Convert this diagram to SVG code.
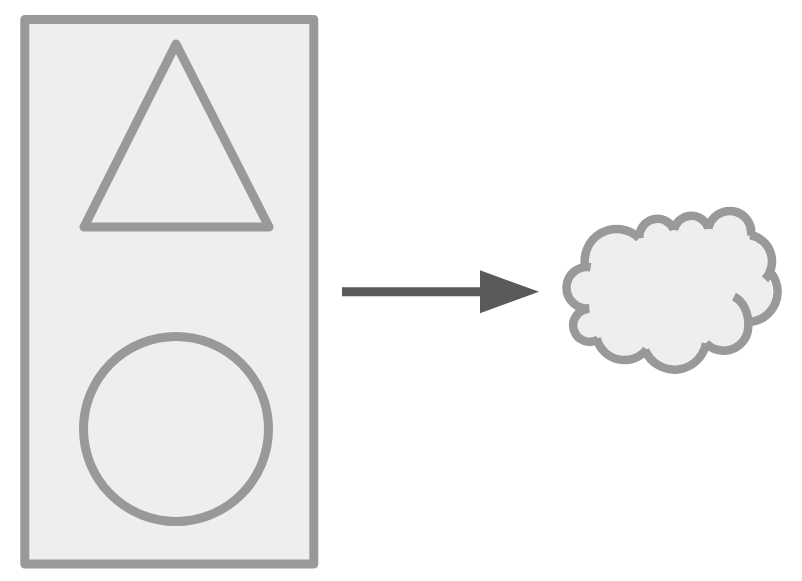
<svg xmlns="http://www.w3.org/2000/svg" width="802" height="581" viewBox="0 0 802 581">
<style>
.s{fill:#eeeeee;stroke:#999999;stroke-width:9;stroke-linejoin:round}
.o{fill:none;stroke:#999999;stroke-width:8.500}
.f{fill:#eeeeee;stroke:none}
</style>
<defs>
<marker id="head" markerUnits="userSpaceOnUse" markerWidth="60" markerHeight="44" refX="1" refY="21.5" orient="auto">
<path d="M1 0L60 21.5L1 43Z" fill="#5a5a5a"/>
</marker>
</defs>
<rect width="802" height="581" fill="#ffffff"/>
<g id="panel"><rect class="s" x="24.800" y="19.500" width="289" height="544.500"/></g>
<g id="triangle"><path class="s" d="M176 44L269 227H84Z"/></g>
<g id="circle"><circle class="s" cx="176" cy="429" r="92.500"/></g>
<g id="cloud">
<path class="f" d="M586 270A32 32 0 0 1 639.300 238.300A18.200 18.200 0 0 1 674 229.500A17.700 17.700 0 0 1 708.300 228.300A21.700 21.700 0 0 1 751 236A26.700 26.700 0 0 1 767 275A30.300 30.300 0 0 1 749 322C748 341 736 351 723.300 350.700C716 350.500 710 347.500 706 343.300A32 32 0 0 1 645 350A28.500 28.500 0 0 1 596.700 338.300A16.400 16.400 0 1 1 589.300 309A20.700 20.700 0 1 1 590.700 267.300Z"/>
<path class="o" d="M586 270A32 32 0 0 1 639.300 238.300M639.300 238.300A18.200 18.200 0 0 1 674 229.500M674 230A17.700 17.700 0 0 1 708.300 228.300M708.300 228.300A21.700 21.700 0 0 1 751 236M750 235A26.700 26.700 0 0 1 765 279.300M770 271.700A30.300 30.300 0 0 1 749 322M734 296.700C743 301 749 313 748.300 326.700C748 341 736 351 723.300 350.700C716 350.500 710 347.500 706 343.300M706 343.300A32 32 0 0 1 645 350M646.700 349.300A28.500 28.500 0 0 1 596.700 338.300M598.300 339.300A16.400 16.400 0 1 1 589.300 309M589.300 308.300A20.700 20.700 0 1 1 590.700 267.300"/>
</g>
<g id="connectors"><line x1="342" y1="291.800" x2="480" y2="291.800" stroke="#5a5a5a" stroke-width="9" marker-end="url(#head)"/></g>
</svg>
